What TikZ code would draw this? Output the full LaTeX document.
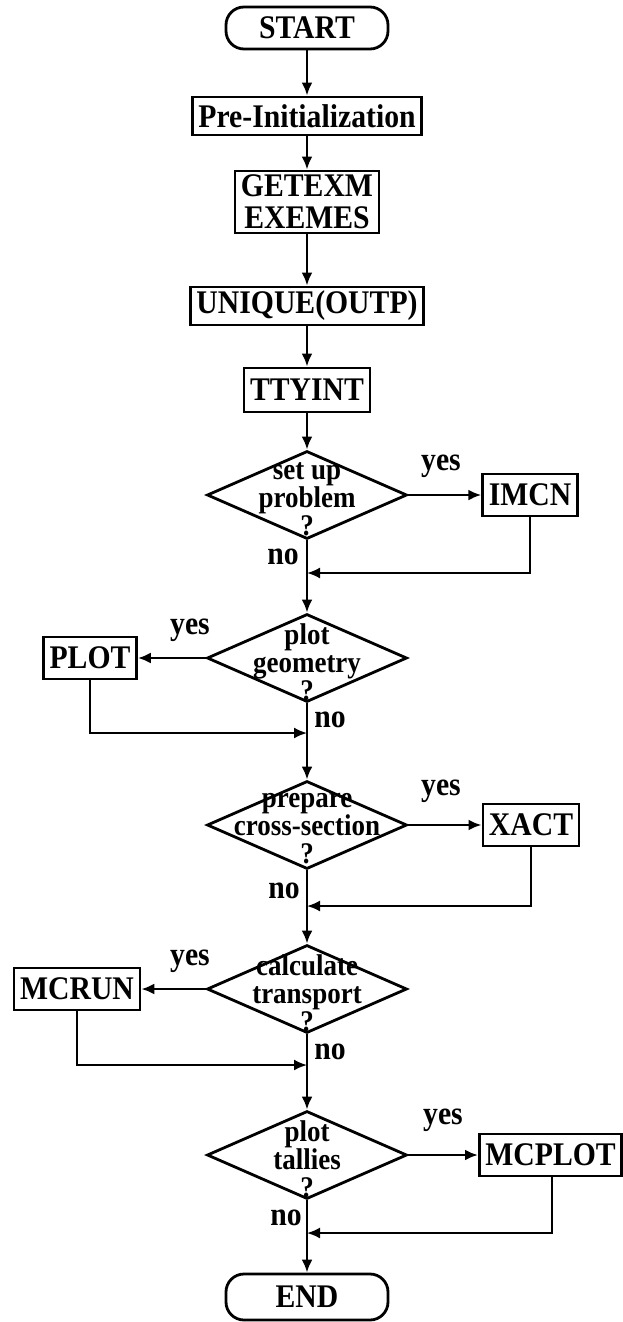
\documentclass[tikz,border=0pt]{standalone}
\usepackage{fontspec}
\setmainfont{Liberation Serif}[FakeStretch=0.9]
\usetikzlibrary{shapes.geometric,arrows.meta}

\begin{document}
\begin{tikzpicture}[
    x=0.5pt, y=-0.5pt,
    >={Latex[length=6.5pt,width=5.5pt]},
    every node/.style={font=\fontsize{16.5}{16}\selectfont\bfseries},
    proc/.style={draw, line width=1.4pt, inner xsep=3pt, inner ysep=0pt, minimum height=21pt},
    term/.style={draw, line width=1.4pt, rounded corners=9pt, minimum width=81pt, minimum height=21pt},
    decision/.style={draw, diamond, line width=1.4pt, inner sep=0pt,
        minimum width=100pt, minimum height=44pt},
    dtext/.style={align=center, yshift=-2pt, font=\fontsize{15}{14}\selectfont\bfseries},
    flow/.style={->, line width=1.3pt},
    back/.style={->, line width=1pt}
]

    \useasboundingbox (0,0) rectangle (622,1322);

    % --- Main column ---
    \node[term] (start) at (307,28) {START};
    \node[proc, minimum height=19pt] (preinit) at (307,116) {Pre-Initialization};
    \node[proc, align=center, minimum height=31pt] (getexm) at (307,202) {GETEXM\\EXEMES};
    \node[proc, minimum height=19pt] (unique) at (307,306) {UNIQUE(OUTP)};
    \node[proc, minimum height=22pt] (ttyint) at (307,390) {TTYINT};

    % Decisions
    \node[decision, label={[dtext]center:set up\\problem\\?}] (setup) at (307,495) {};
    \node[decision, label={[dtext]center:plot\\geometry\\?}] (plotgeo) at (307,658) {};
    \node[decision, label={[dtext]center:prepare\\cross-section\\?}] (prep) at (307,825) {};
    \node[decision, label={[dtext]center:calculate\\transport\\?}] (calc) at (307,989) {};
    \node[decision, label={[dtext]center:plot\\tallies\\?}] (tally) at (307,1155) {};

    \node[term, minimum height=23pt] (end) at (307,1297) {END};

    % --- Side branches ---
    \node[proc] (imcn) at (530,495) {IMCN};
    \node[proc] (plot) at (90,658) {PLOT};
    \node[proc] (xact) at (531,825) {XACT};
    \node[proc] (mcrun) at (77,989) {MCRUN};
    \node[proc, anchor=west] (mcplot) at (478,1155) {MCPLOT};

    % return points on the main line
    \coordinate (j1) at (307,573);
    \coordinate (j2) at (307,733);
    \coordinate (j3) at (307,906);
    \coordinate (j4) at (307,1065);
    \coordinate (j5) at (307,1233);

    % --- Wiring ---
    \draw[flow] (start) -- (preinit);
    \draw[flow] (preinit) -- (getexm);
    \draw[flow] (getexm) -- (unique);
    \draw[flow] (unique) -- (ttyint);
    \draw[flow] (ttyint) -- (setup.north);
    \draw[flow] (setup.south) -- (plotgeo.north);
    \draw[flow] (plotgeo.south) -- (prep.north);
    \draw[flow] (prep.south) -- (calc.north);
    \draw[flow] (calc.south) -- (tally.north);
    \draw[flow] (tally.south) -- (end);

    \draw[flow] (setup.east) -- (imcn.west);
    \draw[flow] (plotgeo.west) -- (plot.east);
    \draw[flow] (prep.east) -- (xact.west);
    \draw[flow] (calc.west) -- (mcrun.east);
    \draw[flow] (tally.east) -- (mcplot.west);

    \draw[back] (imcn.south) |- (j1);
    \draw[back] (plot.south) |- (j2);
    \draw[back] (xact.south) |- (j3);
    \draw[back] (mcrun.south) |- (j4);
    \draw[back] (mcplot.south -| 552,0) |- (j5);

    % yes / no labels
    \node (yes1) at (441,466) {yes};
    \node (yes2) at (190,630) {yes};
    \node (yes3) at (441,791) {yes};
    \node (yes4) at (190,961) {yes};
    \node (yes5) at (443,1120) {yes};
    \node (no1) at (283,557) {no};
    \node (no2) at (330,720) {no};
    \node (no3) at (284,891) {no};
    \node (no4) at (330,1052) {no};
    \node (no5) at (286,1218) {no};

\end{tikzpicture}
\end{document}
